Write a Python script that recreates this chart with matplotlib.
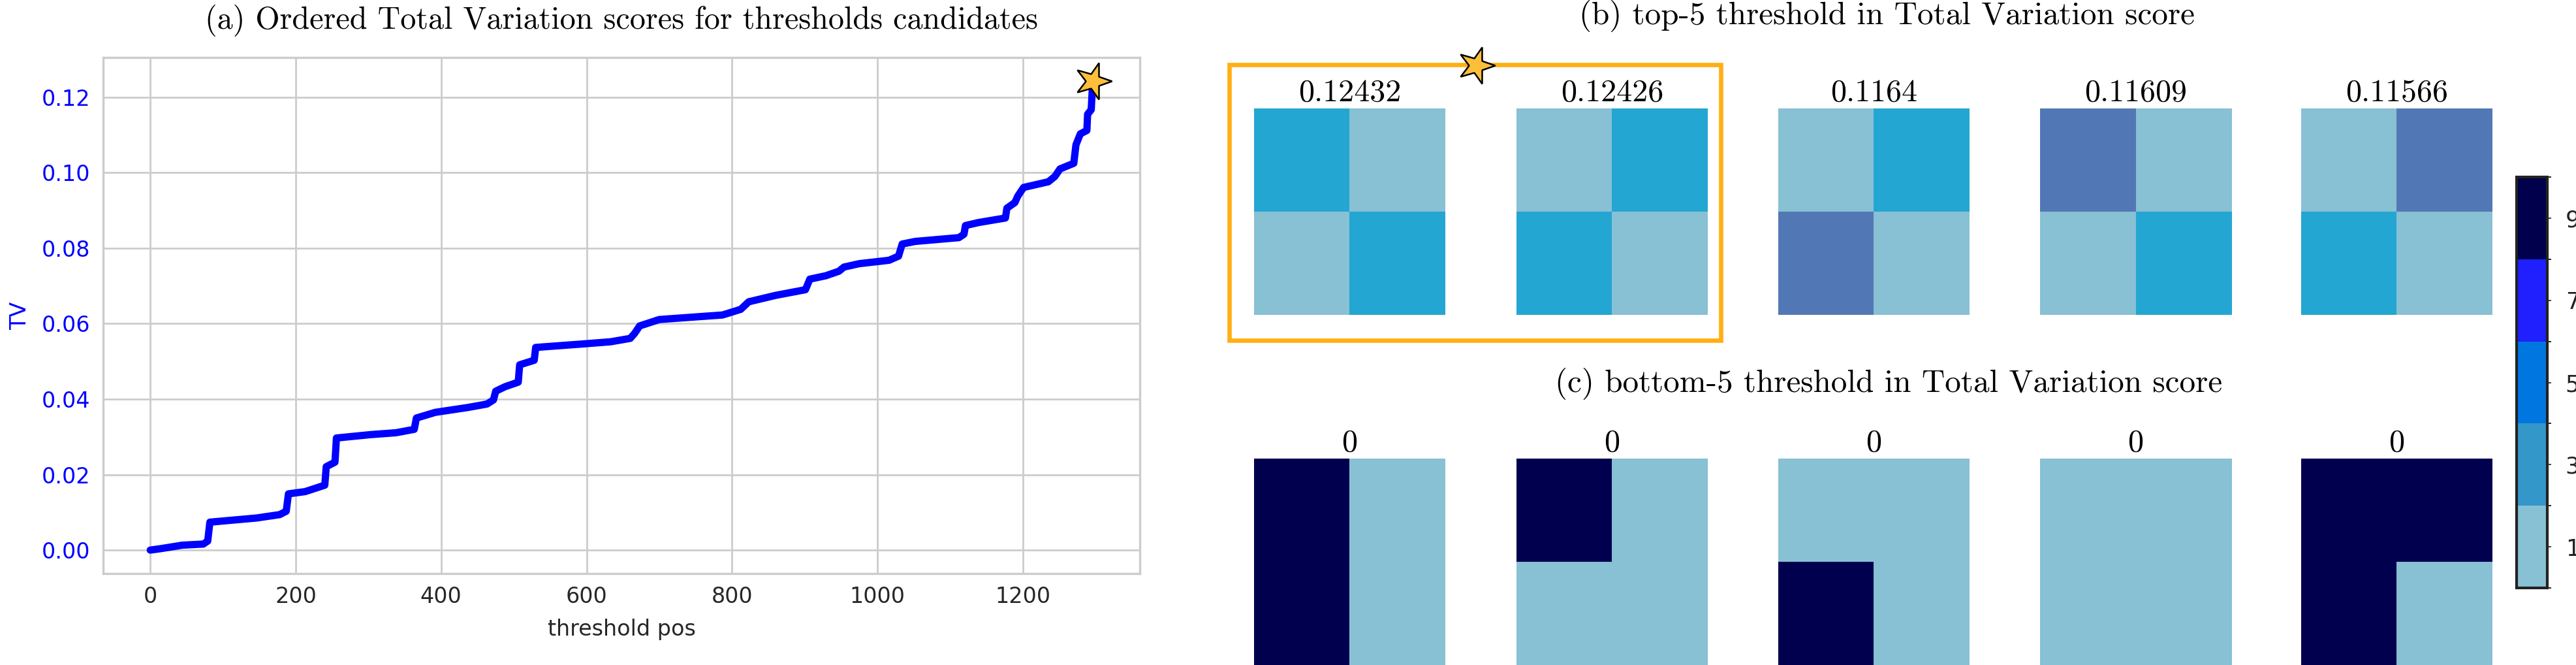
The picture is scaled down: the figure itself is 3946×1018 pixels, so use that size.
import numpy as np
import matplotlib
matplotlib.use('Agg')
import matplotlib.pyplot as plt
from matplotlib.colors import ListedColormap, BoundaryNorm
from matplotlib.markers import MarkerStyle
from matplotlib.transforms import Affine2D
from matplotlib.patches import Rectangle
from matplotlib.lines import Line2D
from matplotlib.ticker import MultipleLocator
import matplotlib.cm as cm

# ordered TV scores (threshold position, TV)
tv_pos = [0, 15, 44, 73, 79, 82, 111, 146, 178, 187, 190, 213, 240, 242, 254, 256,
          303, 338, 363, 366, 392, 437, 463, 472, 475, 488, 506, 508, 528, 530,
          593, 633, 660, 666, 673, 700, 787, 812, 823, 860, 901, 907, 929, 947,
          954, 975, 1016, 1029, 1034, 1052, 1112, 1119, 1121, 1139, 1176, 1178,
          1189, 1193, 1201, 1235, 1244, 1251, 1270, 1273, 1279, 1288, 1289, 1294,
          1295, 1296]
tv_score = [0.0, 0.0004, 0.0013, 0.0016, 0.0024, 0.0074, 0.0079, 0.0085, 0.0094,
            0.0103, 0.0149, 0.0155, 0.0172, 0.0221, 0.0233, 0.0297, 0.0306, 0.0311,
            0.032, 0.035, 0.0365, 0.0378, 0.0387, 0.0398, 0.0421, 0.0433, 0.0445,
            0.0491, 0.0503, 0.0537, 0.0546, 0.0552, 0.0561, 0.0574, 0.0594, 0.0611,
            0.0623, 0.0638, 0.0658, 0.0675, 0.069, 0.0718, 0.0727, 0.0739, 0.075,
            0.0759, 0.0768, 0.0779, 0.0811, 0.0818, 0.0828, 0.0837, 0.086, 0.0868,
            0.088, 0.0906, 0.0921, 0.0938, 0.0961, 0.0976, 0.099, 0.101, 0.1025,
            0.1074, 0.1103, 0.1112, 0.1155, 0.1167, 0.1204, 0.12432]

top_scores = ['0.12432', '0.12426', '0.1164', '0.11609', '0.11566']
top_grids = [[[2, 1], [1, 2]],
             [[1, 2], [2, 1]],
             [[1, 2], [3, 1]],
             [[3, 1], [1, 2]],
             [[1, 3], [2, 1]]]
bottom_scores = ['0', '0', '0', '0', '0']
bottom_grids = [[[9, 1], [9, 1]],
                [[9, 1], [1, 1]],
                [[1, 1], [9, 1]],
                [[1, 1], [1, 1]],
                [[9, 9], [9, 1]]]

cell_colors = ['#88C0D4', '#24A6D2', '#5178B5', '#00004F']
cell_bounds = [0.5, 1.5, 2.5, 3.5, 9.5]
cbar_colors = ['#88C1D4', '#3397C9', '#0077E0', '#2020FF', '#00004C']
cbar_bounds = [0, 2, 4, 6, 8, 10]
cbar_ticks = [1, 3, 5, 7, 9]

W, H = 3946, 1018
fig = plt.figure(figsize=(W / 200, H / 200), dpi=200)
cmfont = 'cmr10'
star = MarkerStyle('*', transform=Affine2D().rotate_deg(-18))
star_col = '#FDBF3A'

# (a) ordered TV curve
ax = fig.add_axes([158 / W, 1 - 878 / H, (1746 - 158) / W, (878 - 88) / H])
ax.plot(tv_pos, tv_score, color='blue', lw=4, solid_capstyle='round', zorder=3)
ax.plot(tv_pos[-1], tv_score[-1], marker=star, ms=21, mfc=star_col, mec='black',
        mew=0.9, clip_on=False, zorder=4)
ax.xaxis.set_major_locator(MultipleLocator(200))
ax.grid(True, color='#cccccc', lw=1.0)
ax.set_axisbelow(True)
for s in ax.spines.values():
    s.set_color('#cccccc')
    s.set_linewidth(1.2)
ax.tick_params(axis='both', length=0, labelsize=12)
ax.tick_params(axis='y', colors='blue', pad=7)
ax.tick_params(axis='x', labelcolor='#262626', pad=7)
ax.set_ylabel('TV', color='blue', fontsize=12, labelpad=6)
ax.set_xlabel('threshold pos', color='#262626', fontsize=12, labelpad=6)
ax.set_title('(a) Ordered Total Variation scores for thresholds candidates',
             fontfamily=cmfont, fontsize=17.3, pad=16)

# (b) / (c) heatmaps
cell_cmap = ListedColormap(cell_colors)
cell_norm = BoundaryNorm(cell_bounds, cell_cmap.N)
lefts = [1921, 2323, 2724, 3125, 3525]
hw, hh = 293, 316
for row_top, grids, scores in [(166, top_grids, top_scores),
                               (702, bottom_grids, bottom_scores)]:
    for i, (g, sc) in enumerate(zip(grids, scores)):
        hax = fig.add_axes([lefts[i] / W, 1 - (row_top + hh) / H, hw / W, hh / H])
        hax.imshow(np.array(g), cmap=cell_cmap, norm=cell_norm, aspect='auto',
                   interpolation='nearest')
        hax.axis('off')
        hax.set_title(sc, fontfamily=cmfont, fontsize=17.3, pad=4)

fig.text(2890 / W, 1 - 37 / H, '(b) top-5 threshold in Total Variation score',
         ha='center', va='baseline', fontfamily=cmfont, fontsize=17.7)
fig.text(2893 / W, 1 - 600 / H, '(c) bottom-5 threshold in Total Variation score',
         ha='center', va='baseline', fontfamily=cmfont, fontsize=17.7)

# highlight box with star
fig.add_artist(Rectangle((1883 / W, 1 - 521 / H), (2636 - 1883) / W, (521 - 99) / H,
                         transform=fig.transFigure, fill=False, edgecolor='#FFAF14',
                         lw=2.4, zorder=5))
fig.add_artist(Line2D([2261 / W], [1 - 100 / H], transform=fig.transFigure,
                      marker=star, ms=21, mfc=star_col, mec='black', mew=0.9,
                      zorder=6))

# colorbar
cax = fig.add_axes([3855 / W, 1 - 900 / H, 47 / W, 629 / H])
sm = cm.ScalarMappable(cmap=ListedColormap(cbar_colors),
                       norm=BoundaryNorm(cbar_bounds, len(cbar_colors)))
cb = fig.colorbar(sm, cax=cax, ticks=cbar_ticks)
cb.outline.set_edgecolor('#222222')
cb.outline.set_linewidth(1.5)
cax.tick_params(length=2, width=0.6, labelsize=12.5, pad=8, colors='#222222')

fig.savefig('out.png', dpi=200)
